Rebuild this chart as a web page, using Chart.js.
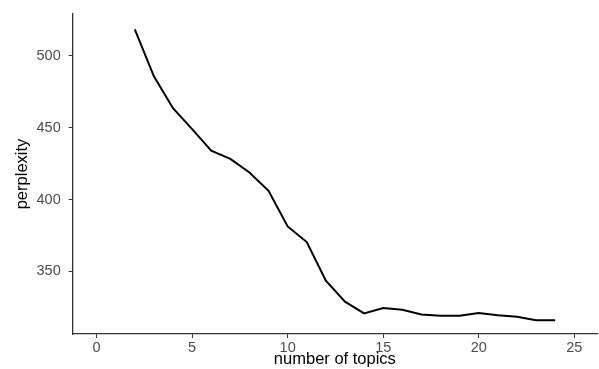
<!DOCTYPE html>
<html>
<head>
<meta charset="utf-8">
<script src="https://cdn.jsdelivr.net/npm/chart.js@4"></script>
<style>
  html, body { margin: 0; padding: 0; background: #fff; }
  #wrap { width: 599px; height: 369px; position: relative; }
</style>
</head>
<body>
<div id="wrap"><canvas id="c"></canvas></div>
<script>
const topics = [2, 3, 4, 5, 6, 7, 8, 9, 10, 11, 12, 13, 14, 15, 16, 17, 18, 19, 20, 21, 22, 23, 24];
const perplexity = [518.3, 485.7, 463.5, 448.9, 434.0, 428.3, 418.8, 406.0, 381.3, 370.4, 343.5, 329.0, 320.8, 324.6, 323.4, 320.0, 319.2, 319.2, 321.1, 319.5, 318.5, 316.0, 316.0];
const xTicks = [0, 5, 10, 15, 20, 25];
const yTicks = [350, 400, 450, 500];

const points = topics.map((t, i) => ({ x: t, y: perplexity[i] }));
const tickFont = { family: "'Liberation Sans', Arial, sans-serif", size: 14.5 };
const titleFont = { family: "'Liberation Sans', Arial, sans-serif", size: 16.5 };

new Chart(document.getElementById('c'), {
  type: 'line',
  data: {
    datasets: [{
      data: points,
      borderColor: '#000',
      borderWidth: 2,
      pointRadius: 0,
      tension: 0,
      fill: false
    }]
  },
  options: {
    responsive: true,
    maintainAspectRatio: false,
    animation: false,
    layout: { padding: { top: 14, right: 2, left: 0, bottom: 0 } },
    plugins: { legend: { display: false }, tooltip: { enabled: false } },
    scales: {
      x: {
        type: 'linear',
        min: -1.25,
        max: 26.19,
        afterBuildTicks: s => { s.ticks = xTicks.map(v => ({ value: v })); },
        afterFit: s => { s.height = 35; s.paddingLeft = 0; s.paddingRight = 0; },
        grid: { display: true, drawOnChartArea: false, drawTicks: true, tickLength: 4, color: '#333', lineWidth: 1 },
        border: { display: true, color: '#333', width: 1.3 },
        ticks: { color: '#4d4d4d', font: tickFont, padding: 1, maxRotation: 0 },
        title: { display: true, text: 'number of topics', color: '#000', font: titleFont, padding: { top: 0, bottom: 0 } }
      },
      y: {
        type: 'linear',
        min: 306.5,
        max: 529,
        afterBuildTicks: s => { s.ticks = yTicks.map(v => ({ value: v })); },
        afterFit: s => { s.width = 72.7; s.paddingTop = 0; s.paddingBottom = 0; },
        grid: { display: true, drawOnChartArea: false, drawTicks: true, tickLength: 4, color: '#333', lineWidth: 1 },
        border: { display: true, color: '#333', width: 1.3 },
        ticks: { color: '#4d4d4d', font: tickFont, padding: 8 },
        title: { display: true, text: 'perplexity', color: '#000', font: titleFont, padding: { top: 13, bottom: 0 } }
      }
    }
  }
});
</script>
</body>
</html>
